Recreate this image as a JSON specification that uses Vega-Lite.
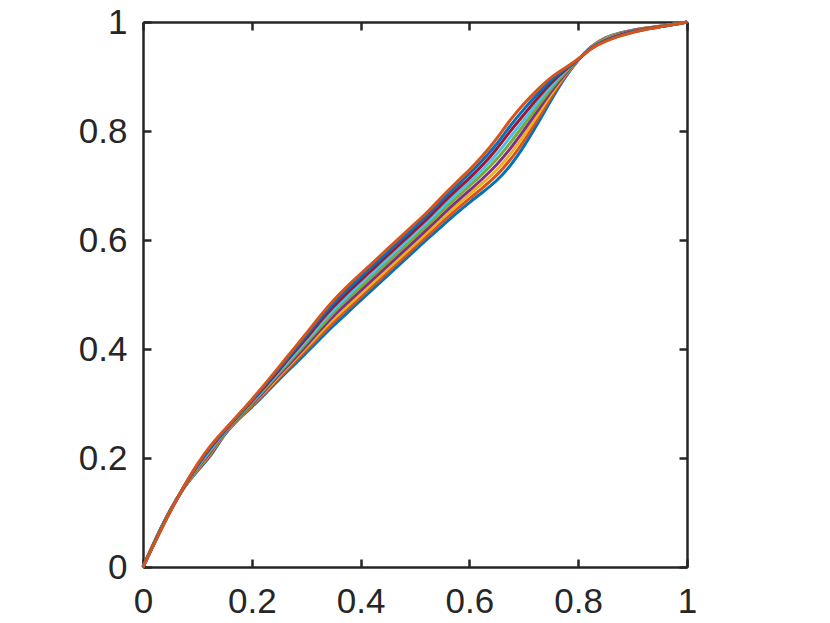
{
  "$schema": "https://vega.github.io/schema/vega-lite/v6.json",
  "autosize": {"type": "none"},
  "padding": {"left": 143, "top": 22, "right": 143, "bottom": 56},
  "width": 544,
  "height": 545,
  "background": "white",
  "config": {
    "view": {"stroke": null},
    "font": "Liberation Sans",
    "axis": {
      "grid": false,
      "domainColor": "#262626",
      "domainWidth": 2.5,
      "tickColor": "#262626",
      "tickWidth": 2.5,
      "tickSize": -8,
      "labelFlush": false,
      "labelFont": "Liberation Sans",
      "labelFontSize": 35,
      "labelColor": "#262626",
      "title": null
    }
  },
  "data": {"values": [
    {"x":0,"s1":0,"s2":0,"s3":0,"s4":0,"s5":0,"s6":0,"s7":0,"s8":0,"s9":0},
    {"x":0.025,"s1":0.056,"s2":0.056,"s3":0.055,"s4":0.055,"s5":0.054,"s6":0.054,"s7":0.053,"s8":0.053,"s9":0.052},
    {"x":0.05,"s1":0.106,"s2":0.106,"s3":0.105,"s4":0.105,"s5":0.104,"s6":0.104,"s7":0.103,"s8":0.103,"s9":0.102},
    {"x":0.075,"s1":0.146,"s2":0.146,"s3":0.147,"s4":0.147,"s5":0.147,"s6":0.147,"s7":0.147,"s8":0.148,"s9":0.148},
    {"x":0.1,"s1":0.177,"s2":0.179,"s3":0.18,"s4":0.182,"s5":0.184,"s6":0.185,"s7":0.187,"s8":0.188,"s9":0.19},
    {"x":0.125,"s1":0.203,"s2":0.206,"s3":0.209,"s4":0.211,"s5":0.214,"s6":0.217,"s7":0.22,"s8":0.222,"s9":0.225},
    {"x":0.15,"s1":0.245,"s2":0.246,"s3":0.247,"s4":0.248,"s5":0.249,"s6":0.249,"s7":0.25,"s8":0.251,"s9":0.252},
    {"x":0.175,"s1":0.271,"s2":0.272,"s3":0.273,"s4":0.274,"s5":0.275,"s6":0.276,"s7":0.277,"s8":0.278,"s9":0.279},
    {"x":0.2,"s1":0.293,"s2":0.295,"s3":0.297,"s4":0.298,"s5":0.3,"s6":0.302,"s7":0.304,"s8":0.305,"s9":0.307},
    {"x":0.225,"s1":0.318,"s2":0.32,"s3":0.323,"s4":0.325,"s5":0.328,"s6":0.33,"s7":0.332,"s8":0.335,"s9":0.337},
    {"x":0.25,"s1":0.344,"s2":0.347,"s3":0.35,"s4":0.353,"s5":0.356,"s6":0.358,"s7":0.361,"s8":0.364,"s9":0.367},
    {"x":0.275,"s1":0.368,"s2":0.372,"s3":0.376,"s4":0.379,"s5":0.383,"s6":0.387,"s7":0.391,"s8":0.394,"s9":0.398},
    {"x":0.3,"s1":0.393,"s2":0.397,"s3":0.402,"s4":0.406,"s5":0.411,"s6":0.415,"s7":0.419,"s8":0.424,"s9":0.428},
    {"x":0.325,"s1":0.418,"s2":0.423,"s3":0.429,"s4":0.434,"s5":0.439,"s6":0.444,"s7":0.45,"s8":0.455,"s9":0.46},
    {"x":0.35,"s1":0.443,"s2":0.449,"s3":0.455,"s4":0.461,"s5":0.467,"s6":0.472,"s7":0.478,"s8":0.484,"s9":0.49},
    {"x":0.375,"s1":0.466,"s2":0.472,"s3":0.478,"s4":0.484,"s5":0.491,"s6":0.497,"s7":0.503,"s8":0.509,"s9":0.515},
    {"x":0.4,"s1":0.489,"s2":0.495,"s3":0.501,"s4":0.507,"s5":0.514,"s6":0.52,"s7":0.526,"s8":0.532,"s9":0.538},
    {"x":0.425,"s1":0.512,"s2":0.518,"s3":0.524,"s4":0.53,"s5":0.537,"s6":0.543,"s7":0.549,"s8":0.555,"s9":0.561},
    {"x":0.45,"s1":0.535,"s2":0.541,"s3":0.547,"s4":0.553,"s5":0.56,"s6":0.566,"s7":0.572,"s8":0.578,"s9":0.584},
    {"x":0.475,"s1":0.558,"s2":0.564,"s3":0.57,"s4":0.576,"s5":0.583,"s6":0.589,"s7":0.595,"s8":0.601,"s9":0.607},
    {"x":0.5,"s1":0.581,"s2":0.587,"s3":0.593,"s4":0.599,"s5":0.606,"s6":0.612,"s7":0.618,"s8":0.624,"s9":0.63},
    {"x":0.525,"s1":0.604,"s2":0.61,"s3":0.616,"s4":0.622,"s5":0.629,"s6":0.635,"s7":0.641,"s8":0.647,"s9":0.653},
    {"x":0.55,"s1":0.626,"s2":0.633,"s3":0.64,"s4":0.646,"s5":0.653,"s6":0.66,"s7":0.667,"s8":0.673,"s9":0.68},
    {"x":0.575,"s1":0.648,"s2":0.655,"s3":0.662,"s4":0.669,"s5":0.677,"s6":0.684,"s7":0.691,"s8":0.698,"s9":0.705},
    {"x":0.6,"s1":0.669,"s2":0.676,"s3":0.684,"s4":0.691,"s5":0.699,"s6":0.706,"s7":0.713,"s8":0.721,"s9":0.728},
    {"x":0.625,"s1":0.688,"s2":0.696,"s3":0.705,"s4":0.713,"s5":0.722,"s6":0.73,"s7":0.738,"s8":0.747,"s9":0.755},
    {"x":0.65,"s1":0.708,"s2":0.718,"s3":0.727,"s4":0.737,"s5":0.747,"s6":0.756,"s7":0.766,"s8":0.775,"s9":0.785},
    {"x":0.675,"s1":0.735,"s2":0.746,"s3":0.757,"s4":0.767,"s5":0.778,"s6":0.789,"s7":0.8,"s8":0.81,"s9":0.821},
    {"x":0.7,"s1":0.771,"s2":0.781,"s3":0.791,"s4":0.801,"s5":0.811,"s6":0.82,"s7":0.83,"s8":0.84,"s9":0.85},
    {"x":0.725,"s1":0.812,"s2":0.82,"s3":0.828,"s4":0.836,"s5":0.844,"s6":0.852,"s7":0.86,"s8":0.868,"s9":0.876},
    {"x":0.75,"s1":0.857,"s2":0.862,"s3":0.868,"s4":0.873,"s5":0.878,"s6":0.883,"s7":0.889,"s8":0.894,"s9":0.899},
    {"x":0.775,"s1":0.898,"s2":0.9,"s3":0.902,"s4":0.904,"s5":0.907,"s6":0.909,"s7":0.911,"s8":0.913,"s9":0.915},
    {"x":0.8,"s1":0.931,"s2":0.931,"s3":0.931,"s4":0.931,"s5":0.931,"s6":0.931,"s7":0.931,"s8":0.931,"s9":0.931},
    {"x":0.825,"s1":0.957,"s2":0.957,"s3":0.956,"s4":0.956,"s5":0.955,"s6":0.955,"s7":0.954,"s8":0.954,"s9":0.953},
    {"x":0.85,"s1":0.972,"s2":0.971,"s3":0.97,"s4":0.969,"s5":0.969,"s6":0.968,"s7":0.967,"s8":0.966,"s9":0.965},
    {"x":0.875,"s1":0.98,"s2":0.979,"s3":0.979,"s4":0.978,"s5":0.977,"s6":0.976,"s7":0.976,"s8":0.975,"s9":0.974},
    {"x":0.9,"s1":0.985,"s2":0.985,"s3":0.984,"s4":0.984,"s5":0.983,"s6":0.983,"s7":0.982,"s8":0.982,"s9":0.981},
    {"x":0.925,"s1":0.989,"s2":0.989,"s3":0.989,"s4":0.988,"s5":0.988,"s6":0.988,"s7":0.988,"s8":0.987,"s9":0.987},
    {"x":0.95,"s1":0.992,"s2":0.992,"s3":0.992,"s4":0.992,"s5":0.992,"s6":0.991,"s7":0.991,"s8":0.991,"s9":0.991},
    {"x":0.975,"s1":0.996,"s2":0.996,"s3":0.996,"s4":0.996,"s5":0.996,"s6":0.995,"s7":0.995,"s8":0.995,"s9":0.995},
    {"x":1,"s1":1,"s2":1,"s3":1,"s4":1,"s5":1,"s6":1,"s7":1,"s8":1,"s9":1}
  ]},
  "transform": [{"fold": ["s1","s2","s3","s4","s5","s6","s7","s8","s9"], "as": ["series","y"]}],
  "layer": [
    {
      "mark": {"type": "line", "strokeWidth": 3, "interpolate": "basis"},
      "encoding": {
        "x": {"field": "x", "type": "quantitative", "scale": {"domain": [0,1], "nice": false},
              "axis": {"orient": "bottom", "values": [0,0.2,0.4,0.6,0.8,1], "format": "~g", "labelPadding": 25}},
        "y": {"field": "y", "type": "quantitative", "scale": {"domain": [0,1], "nice": false},
              "axis": {"orient": "left", "values": [0,0.2,0.4,0.6,0.8,1], "format": "~g", "labelPadding": 24}},
        "color": {"field": "series", "type": "nominal", "legend": null,
                  "scale": {"domain": ["s1","s2","s3","s4","s5","s6","s7","s8","s9"],
                            "range": ["#0072BD","#D95319","#EDB120","#7E2F8E","#77AC30","#4DBEEE","#A2142F","#0072BD","#D95319"]}}
      }
    },
    {
      "mark": {"type": "line", "strokeOpacity": 0},
      "encoding": {
        "x": {"field": "x", "type": "quantitative", "scale": {"domain": [0,1], "nice": false},
              "axis": {"orient": "top", "values": [0,0.2,0.4,0.6,0.8,1], "labels": false}},
        "y": {"field": "y", "type": "quantitative", "scale": {"domain": [0,1], "nice": false},
              "axis": {"orient": "right", "values": [0,0.2,0.4,0.6,0.8,1], "labels": false}},
        "detail": {"field": "series"}
      }
    }
  ],
  "resolve": {"axis": {"x": "independent", "y": "independent"}}
}
